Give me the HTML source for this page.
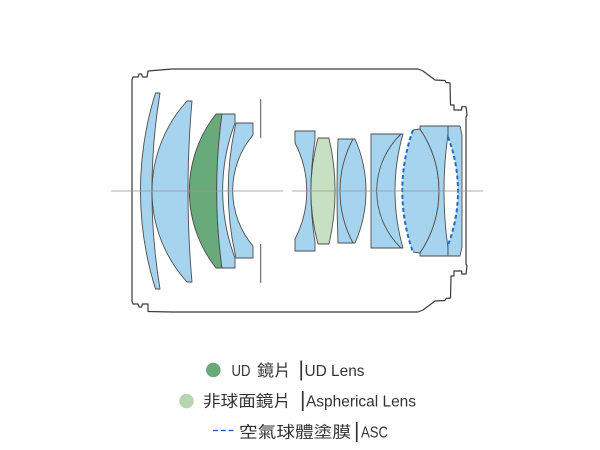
<!DOCTYPE html>
<html>
<head>
<meta charset="utf-8">
<style>
  html,body{margin:0;padding:0;background:#fff;}
  svg{display:block;}
  .t{font-family:"Liberation Sans","Noto Sans CJK TC",sans-serif;font-size:16px;fill:#333;}
  .c{font-family:"Noto Sans CJK TC","Liberation Sans",sans-serif;font-size:16px;fill:#333;}
</style>
</head>
<body>
<svg width="600" height="450" viewBox="0 0 600 450" xmlns="http://www.w3.org/2000/svg">
  <rect width="600" height="450" fill="#fff"/>

  <!-- barrel outline -->
  <path d="M132,80 L133,77 L138,77 L139,74 L141.5,74 L142.5,77 L147,77 L148,71 L172,69 L418,69 L423,71 L435,80 L445,80.5 L446,82.5 L450,83 L450.5,105 L454,105 L454,110 L461.7,110 L461.7,106.7 L466,106.7 L467,115 L466,117 L466,264 L467,266 L466,274 L461.7,274 L461.7,271 L454,271 L454,276 L451,276 L450.5,298 L446,298.5 L445,300.5 L435,301 L423,310 L418,312 L172,312 L148,311.5 L148,304 L142.5,304 L141.5,307 L139,307 L138,304 L133,304 L132,301 Z"
        fill="none" stroke="#3a3a3a" stroke-width="1.2" stroke-linejoin="round"/>

  <g stroke="#4d4d4d" stroke-width="0.9" stroke-linejoin="round">
    <!-- lens 1 -->
    <path d="M155.5,93 L160,93 A604,604 0 0 0 160,289 L155.5,289 A327,327 0 0 1 155.5,93 Z" fill="#a6d4ef"/>
    <!-- lens 2 -->
    <path d="M187,101 L192,101 A1026,1026 0 0 0 192,282 L187,282 A134.5,134.5 0 0 1 187,101 Z" fill="#a6d4ef"/>
    <!-- lens 3 UD -->
    <path d="M216,114 L222,114 A562,562 0 0 0 222,268 L216,268 A124.4,124.4 0 0 1 216,114 Z" fill="#69aa7b"/>
    <!-- lens 4 -->
    <path d="M222,114 L235,114 L235,123 A191,191 0 0 0 235,258 L235,268 L222,268 A562,562 0 0 1 222,114 Z" fill="#a6d4ef"/>
    <!-- lens 5 -->
    <path d="M236,123 L253,123 L253,135 A86,86 0 0 0 253,246 L253,258 L236,258 A300,300 0 0 1 236,123 Z" fill="#a6d4ef"/>
    <!-- lens 6 -->
    <path d="M295,131 L315,131 L315,140 A327,327 0 0 0 315,242 L315,251 L295,251 L295,239 A104,104 0 0 0 295,143 Z" fill="#a6d4ef"/>
    <!-- lens 7 aspherical -->
    <path d="M318,138 L329,138 A237,237 0 0 1 329,244 L318,244 A204,204 0 0 1 318,138 Z" fill="#c8e0c2"/>
    <!-- lens 8 -->
    <path d="M338,139 L355,139 A128.4,128.4 0 0 1 355,243 L338,243 A1352,1352 0 0 1 338,139 Z" fill="#a6d4ef"/>
    <path d="M353,139 A110.5,110.5 0 0 0 353,243" fill="none"/>
    <!-- lens 9 -->
    <path d="M371,134 L403,134 A207,207 0 0 0 403,248 L371,248 Z" fill="#a6d4ef"/>
    <path d="M401,134 A79,79 0 0 0 401,248" fill="none"/>
    <!-- lens 10a fill -->
    <path d="M413,130 L420,129 A110.7,110.7 0 0 1 420,253 L413,252 A179,179 0 0 1 413,130 Z" fill="#a6d4ef" stroke="none"/>
    <path d="M413,130 L420,129 A110.7,110.7 0 0 1 420,253 L413,252" fill="none"/>
    <!-- lens 10b -->
    <path d="M420,126 L448,126 L448,134 A408,408 0 0 0 448,248 L448,256 L420,256 L420,253 A110.7,110.7 0 0 0 420,129 Z" fill="#a6d4ef"/>
    <!-- lens 11 -->
    <path d="M448,126 L460,126 L462,135 L462,247 L460,256 L448,256 L448,245 A151,151 0 0 0 448,137 Z" fill="#a6d4ef" stroke="none"/>
    <path d="M448,245 L448,256 L460,256 L462,247 L462,135 L460,126 L448,126 L448,137" fill="none"/>
    <!-- aperture stop -->
    <path d="M260.7,99 V138 M260.7,244 V283" fill="none" stroke="#555" stroke-width="1"/>
  </g>

  <!-- ASC dashed coatings -->
  <g fill="none" stroke="#1f6cc0" stroke-width="2" stroke-dasharray="4 2.6">
    <path d="M413,130 A179,179 0 0 0 413,252"/>
    <path d="M448,137 A151,151 0 0 1 448,245"/>
  </g>

  <!-- optical axis -->
  <g stroke="#9a9a9a" stroke-width="1" opacity="0.8">
    <line x1="111" y1="191" x2="283" y2="191"/>
    <line x1="292" y1="191" x2="483" y2="191"/>
  </g>

  <!-- legend -->
  <circle cx="213.3" cy="370" r="7.3" fill="#69aa7b"/>
  <text class="t" x="231.5" y="376" textLength="19" lengthAdjust="spacingAndGlyphs">UD</text>
  <text class="c" x="257" y="376" textLength="34" lengthAdjust="spacingAndGlyphs">鏡片</text>
  <text class="t" x="298.5" y="376" style="font-size:21px">|</text>
  <text class="t" x="304.5" y="376" textLength="60" lengthAdjust="spacingAndGlyphs">UD Lens</text>

  <circle cx="186.5" cy="401" r="7.3" fill="#b8d5b1"/>
  <text class="c" x="203" y="406.5" textLength="88" lengthAdjust="spacingAndGlyphs">非球面鏡片</text>
  <text class="t" x="300" y="406.5" style="font-size:21px">|</text>
  <text class="t" x="306" y="406.5" textLength="110" lengthAdjust="spacingAndGlyphs">Aspherical Lens</text>

  <line x1="213" y1="430.5" x2="233.5" y2="430.5" stroke="#1f4fc0" stroke-width="1.3" stroke-dasharray="5 2.8"/>
  <text class="c" x="239" y="437.5" textLength="112" lengthAdjust="spacingAndGlyphs">空氣球體塗膜</text>
  <text class="t" x="354" y="437.5" style="font-size:21px">|</text>
  <text class="t" x="361" y="437.5" textLength="27" lengthAdjust="spacingAndGlyphs">ASC</text>
</svg>
</body>
</html>
